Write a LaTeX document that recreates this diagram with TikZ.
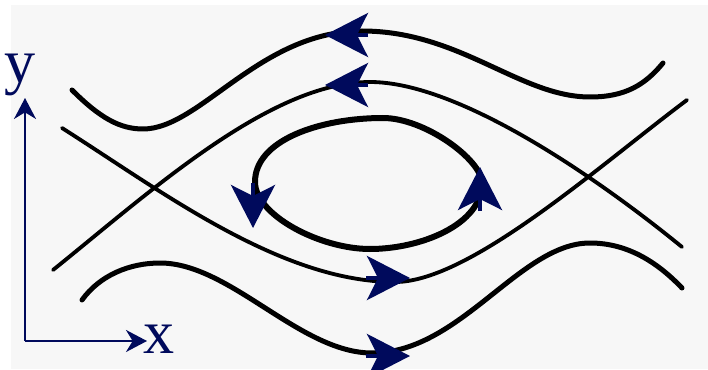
\documentclass[tikz,border=0pt]{standalone}
\usepackage{fontspec}
\setmainfont{Liberation Serif}
\usetikzlibrary{arrows.meta}
\definecolor{navyblue}{HTML}{000A5C}
\definecolor{paper}{HTML}{F7F7F7}
\begin{document}
\begin{tikzpicture}[x=0.03cm,y=-0.03cm,
  orbit/.style={line width=0.15cm, line cap=round, line join=round},
  sepx/.style={line width=0.115cm, line cap=round},
  flow/.style={navyblue, line width=0.12cm, -{Stealth[length=1.29cm,width=1.32cm,inset=0.33cm]}},
  axis/.style={navyblue, line width=0.06cm, -{Stealth[length=0.63cm,width=0.66cm,inset=0.2cm]}},
  lbl/.style={navyblue, font=\fontsize{53}{60}\selectfont, inner sep=0pt}]
  \useasboundingbox (0,0) rectangle (708,370);
  \fill[paper] (11,5) rectangle (708,369);
  % outer orbits
  \draw[orbit] (72,90) .. controls (100,118) and (120,129) .. (143,129)
    .. controls (200,129) and (260,31) .. (362,31)
    .. controls (460,31) and (520,97) .. (590,97)
    .. controls (625,97) and (645,85) .. (663,63);
  \draw[orbit] (82,300) .. controls (100,275) and (130,263) .. (160,263)
    .. controls (230,263) and (300,353) .. (372,353)
    .. controls (460,353) and (520,243) .. (590,243)
    .. controls (630,243) and (660,265) .. (682,288);
  % separatrices
  \draw[sepx] (53,270) .. controls (150,192) and (270,82) .. (370,82)
    .. controls (460,82) and (600,180) .. (682,247);
  \draw[sepx] (62,128) .. controls (160,190) and (280,282) .. (395,282)
    .. controls (470,282) and (600,165) .. (687,100);
  % closed orbit
  \draw[orbit, line width=0.18cm] (383,118) .. controls (425,118) and (482,160) .. (482,183)
    .. controls (482,225) and (420,249) .. (370,249)
    .. controls (320,249) and (255,215) .. (255,182)
    .. controls (255,140) and (320,118) .. (383,118) -- cycle;
  % direction of flow
  \draw[flow] (368,35) -- (325,35);
  \draw[flow] (368,85) -- (325,85);
  \draw[flow] (253,183) -- (253,228);
  \draw[flow] (480,211) -- (480,167);
  \draw[flow] (366,278) -- (410,278);
  \draw[flow] (366,356) -- (410,356);
  % axes
  \coordinate (orig) at (25,341);
  \coordinate (ytip) at (25,98);
  \coordinate (xtip) at (147,341);
  \draw[axis] (orig) -- (ytip);
  \draw[axis] (orig) -- (xtip);
  \node[lbl] (ylabel) at (20,75) {y};
  \node[lbl] (xlabel) at (159,339) {x};
\end{tikzpicture}
\end{document}
